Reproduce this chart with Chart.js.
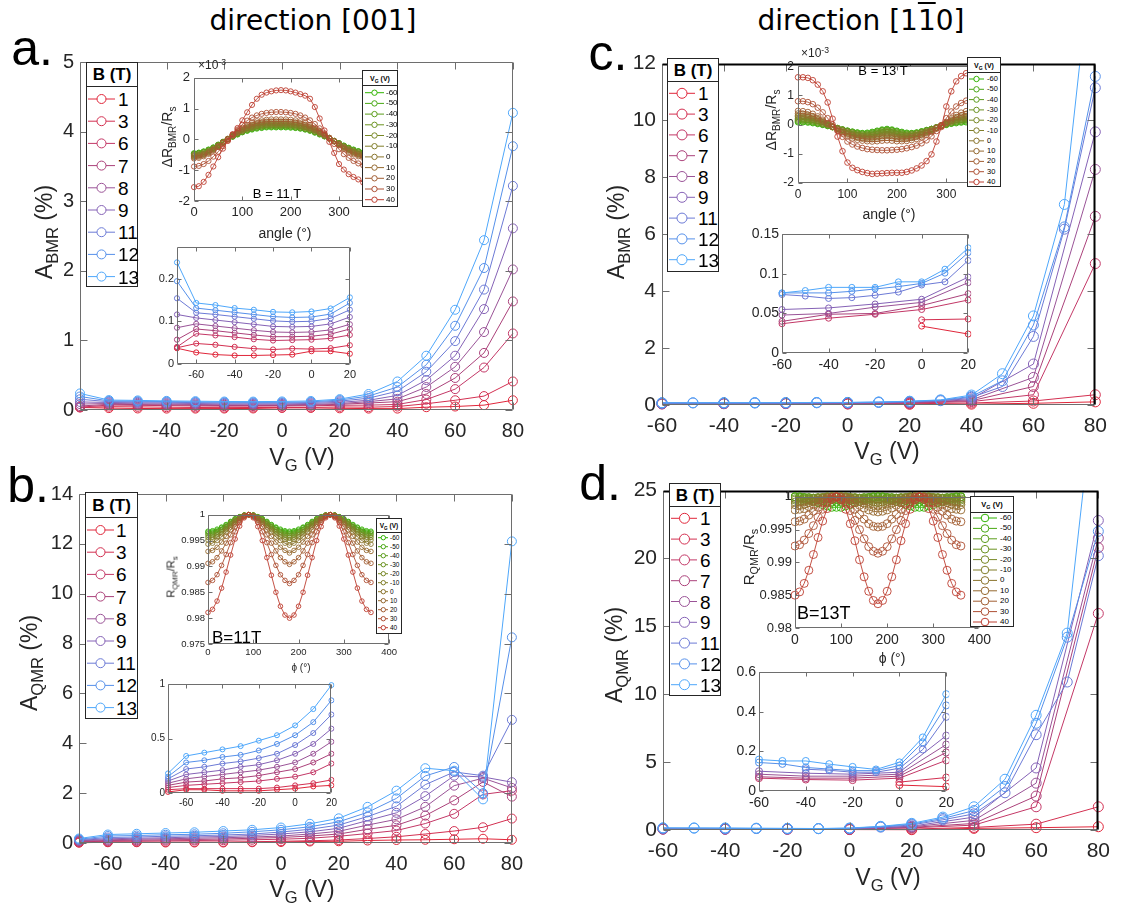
<!DOCTYPE html>
<html>
<head>
<meta charset="utf-8">
<script src="https://cdn.jsdelivr.net/npm/chart.js@4.4.1/dist/chart.umd.min.js"></script>
<style>
  body { margin: 0; background: #fff; width: 1128px; height: 908px; position: relative; overflow: hidden;
         font-family: "Liberation Sans", Arial, sans-serif; }
  canvas { position: absolute; }
  .t { position: absolute; white-space: nowrap; line-height: 1; color: #262626; }
  .sb { font-size: 72%; position: relative; top: 0.38em; }
  .sp { font-size: 72%; position: relative; top: -0.5em; }
  .box { position: absolute; background: #fff; border: 1px solid #262626; box-sizing: border-box; }
</style>
</head>
<body>
<script>
// ---- data ----
const fieldsB = [1, 3, 6, 7, 8, 9, 11, 12, 13];
const gatesVG = [-60, -50, -40, -30, -20, -10, 0, 10, 20, 30, 40];
const gate001 = [-70, -60, -50, -40, -30, -20, -10, 0, 10, 20, 30, 40, 50, 60, 70, 80];
const gate110 = [-60, -50, -40, -30, -20, -10, 0, 10, 20, 30, 40, 50, 60, 70, 80];
const angles = [0, 10, 20, 30, 40, 50, 60, 70, 80, 90, 100, 110, 120, 130, 140, 150, 160, 170, 180,
  190, 200, 210, 220, 230, 240, 250, 260, 270, 280, 290, 300, 310, 320, 330, 340, 350, 360];

// A_BMR (%) along [001], one row per field
const bmr001 = [
  [0.037,0.027,0.022,0.020,0.020,0.021,0.022,0.030,0.030,0.024,0.02,0.02,0.04,0.05,0.07,0.14],
  [0.038,0.048,0.045,0.040,0.036,0.034,0.036,0.035,0.037,0.044,0.04,0.05,0.09,0.14,0.20,0.41],
  [0.040,0.071,0.067,0.063,0.058,0.055,0.056,0.057,0.060,0.068,0.07,0.08,0.15,0.30,0.61,1.10],
  [0.057,0.082,0.078,0.073,0.068,0.064,0.064,0.065,0.070,0.082,0.10,0.12,0.23,0.46,0.82,1.56],
  [0.085,0.094,0.089,0.084,0.079,0.075,0.074,0.075,0.080,0.093,0.12,0.16,0.33,0.62,1.12,2.02],
  [0.116,0.108,0.103,0.098,0.093,0.088,0.087,0.088,0.094,0.110,0.14,0.21,0.43,0.78,1.45,2.61],
  [0.154,0.120,0.116,0.111,0.106,0.101,0.099,0.100,0.107,0.127,0.17,0.27,0.55,0.99,1.73,3.22],
  [0.194,0.131,0.126,0.121,0.116,0.111,0.109,0.110,0.117,0.143,0.20,0.33,0.65,1.21,2.04,3.79],
  [0.238,0.143,0.138,0.131,0.127,0.122,0.121,0.123,0.130,0.156,0.23,0.41,0.78,1.44,2.44,4.27]
];
// A_QMR (%) along [001]
const qmr001 = [
  [0.01,0.03,0.03,0.02,0.02,0.02,0.03,0.04,0.06,0.07,0.10,0.12,0.13,0.15,0.17,0.13],
  [0.03,0.04,0.04,0.04,0.04,0.04,0.05,0.07,0.09,0.12,0.18,0.25,0.36,0.48,0.63,0.98],
  [0.05,0.07,0.08,0.09,0.10,0.11,0.13,0.15,0.19,0.27,0.38,0.50,0.78,1.17,1.95,2.10],
  [0.07,0.10,0.11,0.13,0.14,0.16,0.19,0.22,0.28,0.36,0.55,0.71,1.10,1.71,2.45,1.86],
  [0.09,0.13,0.15,0.17,0.19,0.21,0.24,0.28,0.36,0.47,0.72,0.95,1.45,2.30,2.60,2.21],
  [0.11,0.17,0.19,0.21,0.24,0.26,0.30,0.36,0.45,0.59,0.90,1.21,1.88,2.70,2.65,2.44],
  [0.13,0.22,0.24,0.27,0.29,0.32,0.36,0.44,0.55,0.72,1.06,1.47,2.34,2.85,2.70,4.94],
  [0.15,0.28,0.30,0.33,0.35,0.39,0.45,0.53,0.65,0.85,1.23,1.79,2.69,3.05,2.00,8.25],
  [0.18,0.34,0.37,0.40,0.43,0.48,0.53,0.62,0.77,0.99,1.45,2.10,3.00,2.90,1.75,12.1]
];
// A_BMR (%) along [1-10]
const bmr110 = [
  [null,null,null,null,null,null,0.034,null,0.024,null,0.03,null,0.06,null,0.11],
  [null,null,null,null,null,null,0.042,null,0.043,null,0.07,null,0.14,null,0.36],
  [0.037,null,0.044,null,0.049,null,0.055,null,0.067,null,0.12,null,0.36,null,4.97],
  [0.040,null,0.049,null,0.050,null,0.060,null,0.075,null,0.15,null,0.65,null,6.63],
  [0.048,null,0.050,null,0.058,null,0.064,null,0.089,null,0.18,null,0.97,null,8.28],
  [0.055,null,0.057,null,0.062,null,0.068,null,0.096,null,0.22,null,1.44,null,9.60],
  [0.074,0.072,0.069,0.070,0.073,0.077,0.086,0.090,0.117,0.15,0.27,0.65,2.41,6.18,11.15],
  [0.076,null,0.076,0.078,0.081,0.084,0.088,0.101,0.127,0.17,0.30,0.85,2.81,6.26,11.55],
  [0.076,0.079,0.083,0.083,0.083,0.090,0.090,0.106,0.133,0.18,0.35,1.10,3.13,7.05,17.0]
];
// A_QMR (%) along [1-10]
const qmr110 = [
  [null,null,null,null,null,null,0.030,null,0.022,null,0.12,null,0.17,null,0.24],
  [null,null,null,null,null,null,0.045,null,0.068,null,0.19,null,0.43,null,1.71],
  [0.065,null,0.058,null,0.055,null,0.065,null,0.155,null,0.36,null,1.71,null,15.95],
  [0.072,null,0.065,null,0.065,null,0.075,null,0.195,null,0.48,null,2.50,null,20.8],
  [0.085,null,0.075,null,0.075,null,0.085,null,0.235,null,0.71,null,3.45,null,21.5],
  [0.100,null,0.090,null,0.085,null,0.095,null,0.280,null,0.95,null,4.57,null,22.8],
  [null,null,0.110,0.105,0.095,0.095,0.115,0.210,0.375,0.75,1.19,2.74,7.02,10.9,20.2],
  [0.144,0.137,0.119,0.111,0.103,0.103,0.129,0.246,0.433,0.85,1.43,3.20,7.86,14.2,22.0],
  [0.159,0.152,0.152,0.136,0.122,0.109,0.145,0.271,0.490,0.95,1.71,3.74,8.45,14.5,35.0]
];

// dR_BMR/R_s (x1e-3) vs angle, [001], B = 11 T, one row per gate voltage
const angBmr001 = [
  [-0.45,-0.43,-0.39,-0.33,-0.26,-0.17,-0.08,0.01,0.09,0.16,0.23,0.28,0.32,0.35,0.37,0.39,0.39,0.39,0.39,0.39,0.38,0.37,0.35,0.32,0.28,0.22,0.16,0.10,0.03,-0.05,-0.12,-0.20,-0.27,-0.33,-0.38,-0.42,-0.45],
  [-0.46,-0.44,-0.40,-0.34,-0.27,-0.18,-0.08,0.01,0.09,0.17,0.24,0.29,0.34,0.37,0.39,0.41,0.41,0.41,0.41,0.41,0.40,0.38,0.36,0.33,0.29,0.23,0.17,0.10,0.03,-0.05,-0.13,-0.21,-0.28,-0.34,-0.39,-0.43,-0.46],
  [-0.47,-0.45,-0.41,-0.35,-0.28,-0.18,-0.08,0.01,0.10,0.18,0.25,0.31,0.35,0.39,0.41,0.43,0.43,0.43,0.43,0.43,0.42,0.40,0.38,0.34,0.30,0.24,0.18,0.11,0.03,-0.05,-0.13,-0.21,-0.29,-0.35,-0.40,-0.44,-0.47],
  [-0.49,-0.47,-0.43,-0.37,-0.29,-0.19,-0.09,0.01,0.10,0.19,0.26,0.32,0.37,0.41,0.43,0.45,0.45,0.45,0.45,0.45,0.44,0.42,0.39,0.36,0.31,0.25,0.19,0.11,0.03,-0.05,-0.13,-0.22,-0.30,-0.37,-0.42,-0.46,-0.49],
  [-0.51,-0.49,-0.45,-0.38,-0.30,-0.20,-0.09,0.01,0.11,0.20,0.27,0.34,0.39,0.43,0.45,0.47,0.47,0.47,0.47,0.47,0.46,0.44,0.41,0.38,0.33,0.27,0.20,0.12,0.04,-0.05,-0.14,-0.23,-0.31,-0.38,-0.44,-0.48,-0.51],
  [-0.53,-0.51,-0.47,-0.40,-0.31,-0.21,-0.10,0.01,0.11,0.21,0.29,0.36,0.41,0.45,0.48,0.50,0.50,0.50,0.50,0.50,0.49,0.47,0.44,0.40,0.35,0.29,0.21,0.13,0.04,-0.05,-0.14,-0.24,-0.33,-0.40,-0.46,-0.50,-0.53],
  [-0.55,-0.53,-0.49,-0.42,-0.33,-0.22,-0.10,0.01,0.12,0.22,0.31,0.38,0.44,0.48,0.51,0.53,0.53,0.53,0.53,0.53,0.52,0.50,0.47,0.43,0.38,0.31,0.23,0.14,0.05,-0.05,-0.15,-0.25,-0.34,-0.42,-0.48,-0.52,-0.55],
  [-0.58,-0.56,-0.51,-0.44,-0.34,-0.23,-0.11,0.01,0.13,0.24,0.34,0.42,0.48,0.53,0.56,0.58,0.58,0.58,0.58,0.58,0.57,0.55,0.52,0.48,0.42,0.34,0.25,0.15,0.05,-0.06,-0.17,-0.28,-0.37,-0.45,-0.51,-0.55,-0.58],
  [-0.62,-0.60,-0.55,-0.47,-0.37,-0.25,-0.12,0.02,0.15,0.27,0.38,0.47,0.54,0.59,0.62,0.64,0.65,0.65,0.65,0.65,0.64,0.62,0.59,0.54,0.47,0.38,0.28,0.17,0.05,-0.07,-0.19,-0.31,-0.41,-0.49,-0.55,-0.60,-0.62],
  [-0.88,-0.86,-0.80,-0.70,-0.56,-0.40,-0.22,-0.03,0.15,0.32,0.48,0.61,0.71,0.78,0.83,0.86,0.88,0.89,0.89,0.88,0.86,0.83,0.78,0.71,0.62,0.50,0.36,0.20,0.03,-0.15,-0.32,-0.48,-0.60,-0.70,-0.78,-0.84,-0.88],
  [-1.55,-1.52,-1.38,-1.15,-0.88,-0.58,-0.30,-0.05,0.17,0.37,0.62,0.88,1.12,1.32,1.45,1.52,1.56,1.59,1.60,1.59,1.56,1.52,1.47,1.42,1.32,1.05,0.68,0.29,-0.08,-0.44,-0.80,-0.98,-1.13,-1.22,-1.30,-1.40,-1.50]
];
// dR_BMR/R_s (x1e-3) vs angle, [1-10], B = 13 T
const angBmr110 = [
  [0.08,0.08,0.07,0.05,0.02,-0.01,-0.05,-0.09,-0.13,-0.17,-0.21,-0.24,-0.27,-0.29,-0.28,-0.25,-0.21,-0.17,-0.15,-0.17,-0.21,-0.25,-0.28,-0.29,-0.27,-0.23,-0.19,-0.15,-0.10,-0.05,-0.01,0.03,0.05,0.07,0.08,0.09,0.09],
  [0.11,0.10,0.09,0.07,0.04,0.00,-0.04,-0.08,-0.12,-0.17,-0.21,-0.25,-0.28,-0.30,-0.30,-0.27,-0.23,-0.19,-0.17,-0.19,-0.23,-0.27,-0.30,-0.30,-0.28,-0.24,-0.19,-0.15,-0.10,-0.05,0.00,0.04,0.07,0.09,0.11,0.12,0.12],
  [0.14,0.13,0.12,0.09,0.05,0.01,-0.03,-0.08,-0.12,-0.17,-0.22,-0.26,-0.30,-0.32,-0.32,-0.29,-0.25,-0.21,-0.19,-0.21,-0.25,-0.29,-0.32,-0.31,-0.29,-0.25,-0.20,-0.15,-0.10,-0.04,0.01,0.05,0.09,0.12,0.14,0.15,0.15],
  [0.18,0.17,0.15,0.12,0.08,0.03,-0.02,-0.07,-0.13,-0.18,-0.23,-0.28,-0.32,-0.34,-0.34,-0.32,-0.28,-0.24,-0.22,-0.24,-0.28,-0.32,-0.34,-0.33,-0.30,-0.26,-0.21,-0.16,-0.10,-0.04,0.02,0.07,0.11,0.15,0.17,0.18,0.18],
  [0.22,0.21,0.19,0.16,0.11,0.05,-0.01,-0.07,-0.13,-0.19,-0.25,-0.30,-0.34,-0.37,-0.37,-0.35,-0.32,-0.28,-0.26,-0.28,-0.32,-0.35,-0.37,-0.35,-0.32,-0.28,-0.23,-0.17,-0.10,-0.04,0.03,0.09,0.14,0.18,0.21,0.22,0.22],
  [0.27,0.26,0.24,0.20,0.14,0.08,0.01,-0.07,-0.14,-0.21,-0.27,-0.33,-0.37,-0.40,-0.41,-0.40,-0.37,-0.34,-0.32,-0.34,-0.37,-0.40,-0.40,-0.38,-0.35,-0.30,-0.25,-0.18,-0.11,-0.03,0.04,0.11,0.17,0.22,0.25,0.27,0.27],
  [0.32,0.31,0.29,0.24,0.18,0.10,0.02,-0.07,-0.15,-0.23,-0.30,-0.36,-0.41,-0.44,-0.45,-0.45,-0.43,-0.40,-0.38,-0.40,-0.43,-0.45,-0.44,-0.42,-0.38,-0.33,-0.27,-0.20,-0.11,-0.03,0.05,0.13,0.21,0.27,0.30,0.32,0.32],
  [0.38,0.37,0.34,0.29,0.22,0.13,0.03,-0.07,-0.17,-0.26,-0.34,-0.40,-0.45,-0.48,-0.50,-0.50,-0.49,-0.46,-0.45,-0.46,-0.49,-0.50,-0.49,-0.46,-0.42,-0.37,-0.30,-0.22,-0.12,-0.03,0.07,0.17,0.26,0.32,0.36,0.38,0.38],
  [0.47,0.46,0.43,0.37,0.28,0.17,0.05,-0.08,-0.20,-0.31,-0.40,-0.47,-0.52,-0.55,-0.57,-0.58,-0.57,-0.55,-0.54,-0.55,-0.57,-0.57,-0.56,-0.53,-0.49,-0.43,-0.35,-0.25,-0.14,-0.03,0.09,0.22,0.33,0.41,0.46,0.48,0.48],
  [0.80,0.80,0.77,0.70,0.58,0.42,0.22,0.00,-0.22,-0.42,-0.58,-0.68,-0.75,-0.80,-0.84,-0.86,-0.87,-0.88,-0.88,-0.87,-0.86,-0.84,-0.81,-0.77,-0.72,-0.64,-0.54,-0.40,-0.22,-0.02,0.22,0.45,0.62,0.74,0.82,0.86,0.86],
  [1.62,1.62,1.60,1.52,1.37,1.14,0.76,0.20,-0.41,-0.91,-1.30,-1.48,-1.56,-1.62,-1.66,-1.69,-1.68,-1.67,-1.66,-1.65,-1.65,-1.65,-1.62,-1.57,-1.50,-1.40,-1.25,-1.02,-0.58,-0.08,0.62,1.14,1.48,1.66,1.76,1.80,1.80]
];
// R_QMR/R_s vs phi, [001], B = 11 T
const angQmr001 = [
  [0.9968,0.9969,0.9972,0.9976,0.9981,0.9987,0.9992,0.9996,0.9999,1,0.9999,0.9996,0.9992,0.9987,0.9981,0.9976,0.9972,0.9969,0.9968,0.9969,0.9972,0.9976,0.9981,0.9987,0.9992,0.9996,0.9999,1,0.9999,0.9996,0.9992,0.9987,0.9981,0.9976,0.9972,0.9969,0.9968],
  [0.9966,0.9967,0.9970,0.9975,0.9980,0.9986,0.9992,0.9996,0.9999,1,0.9999,0.9996,0.9992,0.9986,0.9980,0.9975,0.9970,0.9967,0.9966,0.9967,0.9970,0.9975,0.9980,0.9986,0.9992,0.9996,0.9999,1,0.9999,0.9996,0.9992,0.9986,0.9980,0.9975,0.9970,0.9967,0.9966],
  [0.9963,0.9964,0.9967,0.9972,0.9978,0.9985,0.9991,0.9996,0.9999,1,0.9999,0.9996,0.9991,0.9985,0.9978,0.9972,0.9967,0.9964,0.9963,0.9964,0.9967,0.9972,0.9978,0.9985,0.9991,0.9996,0.9999,1,0.9999,0.9996,0.9991,0.9985,0.9978,0.9972,0.9967,0.9964,0.9963],
  [0.9960,0.9961,0.9965,0.9970,0.9977,0.9983,0.9990,0.9995,0.9999,1,0.9999,0.9995,0.9990,0.9983,0.9977,0.9970,0.9965,0.9961,0.9960,0.9961,0.9965,0.9970,0.9977,0.9983,0.9990,0.9995,0.9999,1,0.9999,0.9995,0.9990,0.9983,0.9977,0.9970,0.9965,0.9961,0.9960],
  [0.9956,0.9957,0.9961,0.9967,0.9974,0.9982,0.9989,0.9995,0.9999,1,0.9999,0.9995,0.9989,0.9982,0.9974,0.9967,0.9961,0.9957,0.9956,0.9957,0.9961,0.9967,0.9974,0.9982,0.9989,0.9995,0.9999,1,0.9999,0.9995,0.9989,0.9982,0.9974,0.9967,0.9961,0.9957,0.9956],
  [0.9951,0.9952,0.9957,0.9963,0.9971,0.9980,0.9988,0.9994,0.9999,1,0.9999,0.9994,0.9988,0.9980,0.9971,0.9963,0.9957,0.9952,0.9950,0.9952,0.9957,0.9963,0.9971,0.9980,0.9988,0.9994,0.9999,1,0.9999,0.9994,0.9988,0.9980,0.9971,0.9963,0.9957,0.9952,0.9951],
  [0.9943,0.9945,0.9950,0.9957,0.9967,0.9976,0.9986,0.9993,0.9998,1,0.9998,0.9993,0.9986,0.9976,0.9967,0.9957,0.9950,0.9945,0.9941,0.9945,0.9950,0.9957,0.9967,0.9976,0.9986,0.9993,0.9998,1,0.9998,0.9993,0.9986,0.9976,0.9967,0.9957,0.9950,0.9945,0.9943],
  [0.9929,0.9931,0.9937,0.9947,0.9958,0.9971,0.9982,0.9992,0.9998,1,0.9998,0.9992,0.9982,0.9971,0.9958,0.9947,0.9937,0.9931,0.9926,0.9931,0.9937,0.9947,0.9958,0.9971,0.9982,0.9992,0.9998,1,0.9998,0.9992,0.9982,0.9971,0.9958,0.9947,0.9937,0.9931,0.9929],
  [0.9906,0.9909,0.9917,0.9930,0.9945,0.9961,0.9977,0.9989,0.9997,1,0.9997,0.9989,0.9977,0.9961,0.9945,0.9930,0.9917,0.9909,0.9904,0.9909,0.9917,0.9930,0.9945,0.9961,0.9977,0.9989,0.9997,1,0.9997,0.9989,0.9977,0.9961,0.9945,0.9930,0.9917,0.9909,0.9906],
  [0.9869,0.9873,0.9884,0.9902,0.9923,0.9946,0.9967,0.9985,0.9996,1,0.9996,0.9985,0.9967,0.9946,0.9923,0.9902,0.9884,0.9873,0.9867,0.9873,0.9884,0.9902,0.9923,0.9946,0.9967,0.9985,0.9996,1,0.9996,0.9985,0.9967,0.9946,0.9923,0.9902,0.9884,0.9873,0.9869],
  [0.9811,0.9817,0.9833,0.9858,0.9889,0.9922,0.9953,0.9978,0.9994,1,0.9994,0.9977,0.9950,0.9917,0.9883,0.9850,0.9823,0.9806,0.9800,0.9806,0.9823,0.9850,0.9883,0.9917,0.9950,0.9977,0.9994,1,0.9994,0.9978,0.9953,0.9922,0.9889,0.9858,0.9833,0.9817,0.9811]
];
// R_QMR/R_s vs phi, [1-10], B = 13 T
const angQmr110 = [
  [1,0.9999,0.9998,0.9996,0.9993,0.9991,0.9988,0.9986,0.9984,0.9984,0.9984,0.9986,0.9988,0.9991,0.9993,0.9996,0.9998,0.9999,1,0.9999,0.9998,0.9996,0.9993,0.9991,0.9988,0.9986,0.9984,0.9984,0.9984,0.9986,0.9988,0.9991,0.9993,0.9996,0.9998,0.9999,1],
  [1,1,0.9999,0.9998,0.9997,0.9995,0.9994,0.9993,0.9992,0.9992,0.9992,0.9993,0.9994,0.9995,0.9997,0.9998,0.9999,1,1,1,0.9999,0.9998,0.9997,0.9995,0.9994,0.9993,0.9992,0.9992,0.9992,0.9993,0.9994,0.9995,0.9997,0.9998,0.9999,1,1],
  [1,1,0.9999,0.9999,0.9998,0.9998,0.9997,0.9997,0.9996,0.9996,0.9996,0.9997,0.9997,0.9998,0.9998,0.9999,0.9999,1,1,1,0.9999,0.9999,0.9998,0.9998,0.9997,0.9997,0.9996,0.9996,0.9996,0.9997,0.9997,0.9998,0.9998,0.9999,0.9999,1,1],
  [0.9997,0.9997,0.9997,0.9998,0.9998,0.9999,0.9999,1,1,1,1,1,0.9999,0.9999,0.9998,0.9998,0.9997,0.9997,0.9997,0.9997,0.9997,0.9998,0.9998,0.9999,0.9999,1,1,1,1,1,0.9999,0.9999,0.9998,0.9998,0.9997,0.9997,0.9997],
  [0.9995,0.9995,0.9996,0.9996,0.9997,0.9998,0.9999,1,1,1,1,1,0.9999,0.9998,0.9997,0.9996,0.9996,0.9995,0.9995,0.9995,0.9996,0.9996,0.9997,0.9998,0.9999,1,1,1,1,1,0.9999,0.9998,0.9997,0.9996,0.9996,0.9995,0.9995],
  [0.9992,0.9992,0.9993,0.9994,0.9995,0.9997,0.9998,0.9999,1,1,1,0.9999,0.9998,0.9997,0.9995,0.9994,0.9993,0.9992,0.9991,0.9992,0.9993,0.9994,0.9995,0.9997,0.9998,0.9999,1,1,1,0.9999,0.9998,0.9997,0.9995,0.9994,0.9993,0.9992,0.9992],
  [0.9988,0.9988,0.9989,0.9991,0.9993,0.9995,0.9997,0.9999,1,1,1,0.9999,0.9997,0.9995,0.9993,0.9991,0.9989,0.9987,0.9986,0.9987,0.9989,0.9991,0.9993,0.9995,0.9997,0.9999,1,1,1,0.9999,0.9997,0.9995,0.9993,0.9991,0.9989,0.9988,0.9988],
  [0.9980,0.9981,0.9982,0.9985,0.9988,0.9992,0.9995,0.9998,0.9999,1,0.9999,0.9998,0.9995,0.9991,0.9987,0.9983,0.9980,0.9978,0.9977,0.9978,0.9980,0.9983,0.9987,0.9991,0.9995,0.9998,0.9999,1,0.9999,0.9998,0.9995,0.9992,0.9988,0.9985,0.9982,0.9981,0.9980],
  [0.9962,0.9963,0.9966,0.9972,0.9978,0.9984,0.9991,0.9996,0.9999,1,0.9999,0.9995,0.9989,0.9981,0.9973,0.9966,0.9959,0.9955,0.9954,0.9955,0.9959,0.9966,0.9973,0.9981,0.9989,0.9995,0.9999,1,0.9999,0.9996,0.9991,0.9984,0.9978,0.9972,0.9966,0.9963,0.9962],
  [0.9925,0.9927,0.9934,0.9944,0.9956,0.9969,0.9981,0.9991,0.9998,1,0.9997,0.9990,0.9979,0.9964,0.9950,0.9936,0.9924,0.9917,0.9914,0.9917,0.9924,0.9936,0.9950,0.9964,0.9979,0.9990,0.9997,1,0.9998,0.9991,0.9981,0.9969,0.9956,0.9944,0.9934,0.9927,0.9925],
  [0.9850,0.9855,0.9868,0.9888,0.9912,0.9938,0.9963,0.9982,0.9996,1,0.9995,0.9981,0.9959,0.9933,0.9904,0.9878,0.9856,0.9842,0.9837,0.9842,0.9856,0.9878,0.9904,0.9933,0.9959,0.9981,0.9995,1,0.9996,0.9982,0.9963,0.9938,0.9912,0.9888,0.9868,0.9855,0.9850]
];

// tick labels
const ticksGate = [-60, -40, -20, 0, 20, 40, 60, 80];
const ticksGateInset = [-60, -40, -20, 0, 20];
const ticksA = [0, 1, 2, 3, 4, 5];
const ticksB = [0, 2, 4, 6, 8, 10, 12, 14];
const ticksC = [0, 2, 4, 6, 8, 10, 12];
const ticksD = [0, 5, 10, 15, 20, 25];
const ticksAngle = [0, 100, 200, 300];
const ticksPhi = [0, 100, 200, 300, 400];
const ticksDR = [-2, -1, 0, 1, 2];
const ticksRq001 = [0.975, 0.98, 0.985, 0.99, 0.995, 1];
const ticksRq110 = [0.98, 0.985, 0.99, 0.995, 1];
const ticksInA = [0, 0.1, 0.2];
const ticksInB = [0, 0.5, 1];
const ticksInC = [0, 0.05, 0.1, 0.15];
const ticksInD = [0, 0.2, 0.4, 0.6];

// ---- styles ----
const colB = ['#e0263a', '#d32f50', '#c33766', '#ab417a', '#9a5397', '#8562b6', '#6c7ad6', '#5590ea', '#4ea7fb'];
const colVG = ['#2fb400', '#48a813', '#5b9d1b', '#6b9321', '#788825', '#817e29', '#8a742c', '#95692f', '#a15d32', '#ae5034', '#bd3e31'];

Chart.defaults.font.family = '"Liberation Sans", Arial, sans-serif';

// MATLAB-like box with inward ticks
const matlabAxes = {
  id: 'matlabAxes',
  beforeDatasetsDraw(chart, args, o) {
    if (!o.fill) return;
    const a = chart.chartArea;
    chart.ctx.save();
    chart.ctx.fillStyle = '#fff';
    chart.ctx.fillRect(a.left, a.top, a.right - a.left, a.bottom - a.top);
    chart.ctx.restore();
  },
  afterDatasetsDraw(chart, args, o) {
    const ctx = chart.ctx, a = chart.chartArea, x = chart.scales.x, y = chart.scales.y;
    const L = Math.round(a.left) + 0.5, R = Math.round(a.right) - 0.5;
    const T = Math.round(a.top) + 0.5, B = Math.round(a.bottom) - 0.5;
    const tl = o.tick || 5;
    ctx.save();
    ctx.lineWidth = 1;
    ctx.strokeStyle = o.color || '#6e6e6e';
    ctx.beginPath();
    ctx.moveTo(L, T); ctx.lineTo(L, B); ctx.lineTo(R, B);
    if (!o.dark) { ctx.lineTo(R, T); ctx.lineTo(L, T); }
    x.ticks.forEach(t => {
      const p = Math.round(x.getPixelForValue(t.value)) + 0.5;
      ctx.moveTo(p, B); ctx.lineTo(p, B - tl);
      ctx.moveTo(p, T); ctx.lineTo(p, T + tl);
    });
    y.ticks.forEach(t => {
      const p = Math.round(y.getPixelForValue(t.value)) + 0.5;
      ctx.moveTo(L, p); ctx.lineTo(L + tl, p);
      ctx.moveTo(R, p); ctx.lineTo(R - tl, p);
    });
    ctx.stroke();
    if (o.dark) {
      ctx.strokeStyle = '#000';
      ctx.lineWidth = 2;
      ctx.beginPath();
      ctx.moveTo(L, T); ctx.lineTo(R, T); ctx.lineTo(R, B);
      ctx.stroke();
    }
    ctx.restore();
  }
};

const AXW = 60, AXH = 34, PADT = 8, PADR = 8;

function makeChart(area, datasets, xo, yo, box) {
  const c = document.createElement('canvas');
  const w = area[2] - area[0] + AXW + PADR, h = area[3] - area[1] + PADT + AXH;
  c.width = w; c.height = h;
  c.style.left = (area[0] - AXW) + 'px';
  c.style.top = (area[1] - PADT) + 'px';
  c.style.width = w + 'px';
  c.style.height = h + 'px';
  document.body.appendChild(c);
  const axis = (o, isX) => ({
    type: 'linear', min: o.min, max: o.max,
    afterFit: s => { if (isX) s.height = AXH; else s.width = AXW; },
    afterBuildTicks: s => { s.ticks = o.ticks.map(v => ({ value: v })); },
    grid: { display: false, drawTicks: false, tickLength: 0 },
    border: { display: false },
    ticks: { font: { size: o.font }, color: '#262626', padding: o.pad, maxRotation: 0,
             autoSkip: false, callback: v => String(v) }
  });
  return new Chart(c, {
    type: 'line',
    data: { datasets: datasets },
    options: {
      responsive: false, animation: false, devicePixelRatio: 1,
      layout: { padding: { top: PADT, right: PADR, left: 0, bottom: 0 }, autoPadding: false },
      plugins: { legend: { display: false }, tooltip: { enabled: false }, matlabAxes: box },
      scales: { x: axis(xo, true), y: axis(yo, false) },
      elements: { line: { tension: 0 } },
      events: []
    },
    plugins: [matlabAxes]
  });
}

function pts(xs, ys) { return xs.map((x, i) => ({ x: x, y: ys[i] })); }

function seriesSets(rows, xs, colors, r, lw, clip) {
  return rows.map((ys, i) => ({
    data: pts(xs, ys),
    borderColor: colors[i], pointBorderColor: colors[i],
    pointBackgroundColor: 'rgba(0,0,0,0)',
    borderWidth: lw, pointRadius: r, pointBorderWidth: lw,
    spanGaps: true, clip: clip
  })).reverse();
}

// ---- main panels ----
const clipMain = { left: 8, right: 8, top: 8, bottom: 8 };
const clipTall = { left: 8, right: 8, top: 0, bottom: 8 };

makeChart([80, 52, 525, 410], seriesSets(bmr001, gate001, colB, 4.5, 1, clipMain),
  { min: -70, max: 80, ticks: ticksGate, font: 20, pad: 9 },
  { min: 0, max: 5, ticks: ticksA, font: 20, pad: 6 }, { tick: 7 });
makeChart([79, 484, 524, 843], seriesSets(qmr001, gate001, colB, 4.5, 1, clipMain),
  { min: -70, max: 80, ticks: ticksGate, font: 20, pad: 9 },
  { min: 0, max: 14, ticks: ticksB, font: 20, pad: 6 }, { tick: 7 });
makeChart([662, 53, 1108, 405], seriesSets(bmr110, gate110, colB, 5, 1, clipTall),
  { min: -60, max: 80, ticks: ticksGate, font: 21, pad: 9 },
  { min: 0, max: 12, ticks: ticksC, font: 21, pad: 6 }, { tick: 7, dark: true });
makeChart([663, 480, 1111, 830], seriesSets(qmr110, gate110, colB, 5, 1, clipTall),
  { min: -60, max: 80, ticks: ticksGate, font: 21, pad: 9 },
  { min: 0, max: 25, ticks: ticksD, font: 21, pad: 6 }, { tick: 7, dark: true });

// ---- insets: gate-voltage zoom ----
const clipIn = { left: 4, right: 3, top: 4, bottom: 4 };
makeChart([177, 245, 352, 364], seriesSets(bmr001, gate001, colB, 2.6, 1, clipIn),
  { min: -70, max: 20, ticks: ticksGateInset, font: 11, pad: 4 },
  { min: 0, max: 0.275, ticks: ticksInA, font: 11, pad: 3 }, { fill: true, tick: 4 });
makeChart([168, 683, 333, 793], seriesSets(qmr001, gate001, colB, 2.5, 1, clipIn),
  { min: -70, max: 20, ticks: ticksGateInset, font: 10, pad: 4 },
  { min: 0, max: 1, ticks: ticksInB, font: 10, pad: 3 }, { fill: true, tick: 4 });
makeChart([782, 231, 972, 353], seriesSets(bmr110, gate110, colB, 3, 1, clipIn),
  { min: -60, max: 20, ticks: ticksGateInset, font: 14, pad: 4 },
  { min: 0, max: 0.15, ticks: ticksInC, font: 14, pad: 3 }, { fill: true, tick: 4 });
makeChart([759, 669, 950, 791], seriesSets(qmr110, gate110, colB, 3.5, 1, clipIn),
  { min: -60, max: 20, ticks: ticksGateInset, font: 14, pad: 4 },
  { min: 0, max: 0.6, ticks: ticksInD, font: 14, pad: 3 }, { fill: true, tick: 4 });

// ---- insets: angular dependence ----
const clipAng = { left: 4, right: 0, top: 5, bottom: 4 };
makeChart([194, 74, 368, 201], seriesSets(angBmr001, angles, colVG, 2.6, 0.9, clipAng),
  { min: 0, max: 360, ticks: ticksAngle, font: 13, pad: 4 },
  { min: -2, max: 2, ticks: ticksDR, font: 13, pad: 4 }, { fill: true, tick: 4 });
makeChart([208, 514, 392, 644], seriesSets(angQmr001, angles, colVG, 2.3, 0.9, clipAng),
  { min: 0, max: 400, ticks: ticksPhi, font: 9.5, pad: 3 },
  { min: 0.975, max: 1, ticks: ticksRq001, font: 9.5, pad: 3 }, { fill: true, tick: 4 });
makeChart([798, 63, 976, 183], seriesSets(angBmr110, angles, colVG, 2.8, 0.9, clipAng),
  { min: 0, max: 360, ticks: ticksAngle, font: 12, pad: 4 },
  { min: -2, max: 2, ticks: ticksDR, font: 12, pad: 4 }, { fill: true, tick: 4 });
makeChart([795, 494, 987, 628], seriesSets(angQmr110, angles, colVG, 4, 0.9, clipAng),
  { min: 0, max: 400, ticks: ticksPhi, font: 14, pad: 4 },
  { min: 0.98, max: 1, ticks: ticksRq110, font: 13, pad: 3 }, { fill: true, tick: 4 });

// ---- legends ----
function legendBox(L, labels, colors) {
  const box = document.createElement('div');
  box.className = 'box';
  Object.assign(box.style, { left: L.x + 'px', top: L.y + 'px', width: L.w + 'px', height: L.h + 'px' });
  const t = document.createElement('div');
  t.innerHTML = L.title;
  Object.assign(t.style, { position: 'absolute', left: 0, top: 0, width: '100%', height: L.th + 'px',
    lineHeight: L.th + 'px', textAlign: 'center', fontWeight: 'bold', fontSize: L.tfs + 'px',
    borderBottom: '1px solid #262626', boxSizing: 'border-box', color: '#000' });
  box.appendChild(t);
  const ns = 'http://www.w3.org/2000/svg';
  const svg = document.createElementNS(ns, 'svg');
  svg.setAttribute('width', L.w);
  svg.setAttribute('height', L.h);
  Object.assign(svg.style, { position: 'absolute', left: '-1px', top: '-1px' });
  labels.forEach((lab, i) => {
    const cy = L.r0 + i * L.rh;
    const ln = document.createElementNS(ns, 'line');
    ln.setAttribute('x1', L.lx0); ln.setAttribute('x2', L.lx1);
    ln.setAttribute('y1', cy); ln.setAttribute('y2', cy);
    ln.setAttribute('stroke', colors[i]); ln.setAttribute('stroke-width', 1);
    svg.appendChild(ln);
    const c = document.createElementNS(ns, 'circle');
    c.setAttribute('cx', L.cx); c.setAttribute('cy', cy); c.setAttribute('r', L.r);
    c.setAttribute('fill', '#fff'); c.setAttribute('stroke', colors[i]); c.setAttribute('stroke-width', 1);
    svg.appendChild(c);
    const s = document.createElement('div');
    s.textContent = lab;
    Object.assign(s.style, { position: 'absolute', left: (L.tx - 1) + 'px', top: (cy - 1) + 'px',
      transform: 'translateY(-50%)', fontSize: L.fs + 'px', lineHeight: 1, color: '#000' });
    box.appendChild(s);
  });
  box.appendChild(svg);
  document.body.appendChild(box);
}

const bTitle = 'B (T)';
const vgTitle = 'V<span class="sb">G</span> (V)';
legendBox({ x: 86, y: 62, w: 52, h: 225, th: 24, title: bTitle, tfs: 17, r0: 37, rh: 22.2,
  lx0: 2, lx1: 29, cx: 15.5, r: 4.5, tx: 32, fs: 19 }, fieldsB.map(String), colB);
legendBox({ x: 85, y: 492, w: 53, h: 227, th: 25, title: bTitle, tfs: 17, r0: 38, rh: 22.2,
  lx0: 2, lx1: 29, cx: 15.5, r: 4.5, tx: 31, fs: 19 }, fieldsB.map(String), colB);
legendBox({ x: 667, y: 58, w: 52, h: 214, th: 23, title: bTitle, tfs: 17, r0: 35.3, rh: 20.8,
  lx0: 2, lx1: 28, cx: 15, r: 5, tx: 31, fs: 19 }, fieldsB.map(String), colB);
legendBox({ x: 669, y: 483, w: 52, h: 213, th: 23, title: bTitle, tfs: 17, r0: 35.3, rh: 20.8,
  lx0: 2, lx1: 28, cx: 15.5, r: 5, tx: 31, fs: 19 }, fieldsB.map(String), colB);

legendBox({ x: 362, y: 70, w: 36, h: 137, th: 15, title: vgTitle, tfs: 7, r0: 22.7, rh: 10.7,
  lx0: 3, lx1: 22, cx: 12.5, r: 2.7, tx: 24, fs: 8 }, gatesVG.map(String), colVG);
legendBox({ x: 376, y: 518, w: 26, h: 116, th: 14, title: vgTitle, tfs: 6.5, r0: 19.7, rh: 9.0,
  lx0: 2, lx1: 12, cx: 7.3, r: 2.2, tx: 14, fs: 6.5 }, gatesVG.map(String), colVG);
legendBox({ x: 967, y: 57, w: 34, h: 130, th: 15, title: vgTitle, tfs: 7, r0: 22, rh: 10.3,
  lx0: 2, lx1: 17, cx: 9.5, r: 2.7, tx: 20, fs: 7.5 }, gatesVG.map(String), colVG);
legendBox({ x: 970, y: 496, w: 44, h: 131, th: 16, title: vgTitle, tfs: 7.5, r0: 22, rh: 10.4,
  lx0: 3, lx1: 27, cx: 15, r: 3.8, tx: 30, fs: 8 }, gatesVG.map(String), colVG);

// ---- text ----
function txt(html, cx, cy, size, o) {
  o = o || {};
  const d = document.createElement('div');
  d.className = 't';
  d.innerHTML = html;
  d.style.left = cx + 'px';
  d.style.top = cy + 'px';
  d.style.fontSize = size + 'px';
  if (o.family) d.style.fontFamily = o.family;
  if (o.color) d.style.color = o.color;
  d.style.transform = 'translate(' + (o.left ? '0' : '-50%') + ',-50%)' + (o.rot ? ' rotate(-90deg)' : '');
  document.body.appendChild(d);
}

const dj = '"DejaVu Sans", sans-serif';
txt('direction [001]', 313, 21, 28, { family: dj, color: '#000' });
txt('direction [1<span style="text-decoration:overline">1</span>0]', 861, 21, 28, { family: dj, color: '#000' });
txt('a.', 32, 48, 50, { color: '#000' });
txt('b.', 28, 485, 50, { color: '#000' });
txt('c.', 608, 53, 50, { color: '#000' });
txt('d.', 600, 483, 50, { color: '#000' });

txt('A<span class="sb">BMR</span> (%)', 44, 232, 23, { rot: true });
txt('A<span class="sb">QMR</span> (%)', 29, 663, 23, { rot: true });
txt('A<span class="sb">BMR</span> (%)', 616, 232, 23, { rot: true });
txt('A<span class="sb">QMR</span> (%)', 614, 655, 23, { rot: true });
txt('V<span class="sb">G</span> (V)', 302, 457, 23);
txt('V<span class="sb">G</span> (V)', 302, 889, 23);
txt('V<span class="sb">G</span> (V)', 887, 451, 23);
txt('V<span class="sb">G</span> (V)', 888, 877, 23);

// inset a
txt('×10<span class="sp">-3</span>', 212, 65, 12);
txt('ΔR<span class="sb">BMR</span>/R<span class="sb">s</span>', 167, 137, 14, { rot: true });
txt('angle (°)', 285, 233, 14);
txt('B = 11 T', 277, 193, 13, { color: '#000' });
// inset b
txt('R<span class="sb">QMR</span>/R<span class="sb">s</span>', 171, 577, 11, { rot: true });
txt('ϕ (°)', 301, 668, 10);
txt('B=11T', 212, 637, 17, { left: true, color: '#000' });
// inset c
txt('×10<span class="sp">-3</span>', 815, 53, 12);
txt('ΔR<span class="sb">BMR</span>/R<span class="sb">s</span>', 771, 120, 14, { rot: true });
txt('angle (°)', 889, 214, 14);
txt('B = 13 T', 883, 70, 13, { color: '#000' });
// inset d
txt('R<span class="sb">QMR</span>/R<span class="sb">s</span>', 748, 557, 15, { rot: true });
txt('ϕ (°)', 892, 658, 14);
txt('B=13T', 797, 613, 18, { left: true, color: '#000' });
</script>
</body>
</html>
